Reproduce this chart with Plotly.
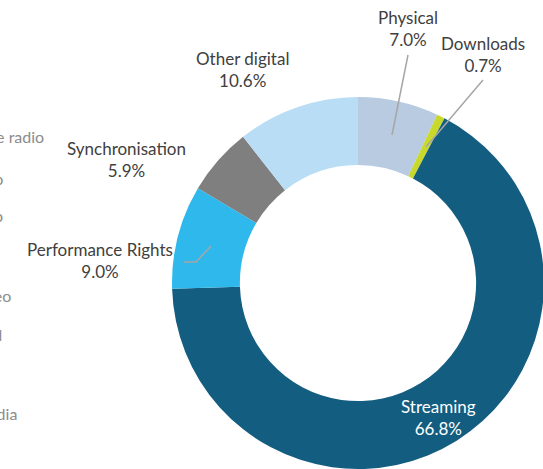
import plotly.graph_objects as go

# revenue split, clockwise from 12 o'clock
labels = ["Physical", "Downloads", "Streaming", "Performance Rights", "Synchronisation", "Other digital"]
shares = [7.0, 0.7, 66.8, 9.0, 5.9, 10.6]
colors = ["#B8CBE0", "#C8D92B", "#135D80", "#2FB8EC", "#7F7F7F", "#B8DDF5"]

# clipped legend text of a neighbouring chart on the left
side_words = ["Online radio", "Audio", "Video", "Music video", "Download", "Social media"]

W, H = 600, 520
cx, cy, r = 358, 283, 186


def px(x):
    return x / W


def py(y):
    return 1 - y / H


fig = go.Figure()
fig.add_trace(go.Pie(
    labels=labels,
    values=shares,
    marker=dict(colors=colors, line=dict(width=0)),
    hole=0.635,
    sort=False,
    direction="clockwise",
    rotation=0,
    textinfo="none",
    hoverinfo="label+percent",
    showlegend=False,
    domain=dict(x=[(cx - r) / W, (cx + r) / W], y=[(H - cy - r) / H, (H - cy + r) / H]),
))

# label placement (screen pixels from top-left), text built from the data
label_pos = {
    "Physical": (408, 28),
    "Downloads": (483, 55),
    "Streaming": (438, 417),
    "Performance Rights": (100, 260),
    "Synchronisation": (126, 159),
    "Other digital": (242, 70),
}
for name, val in zip(labels, shares):
    x, y = label_pos[name]
    fig.add_annotation(
        x=px(x), y=py(y), xref="paper", yref="paper",
        text=f"{name}<br>{val:.1f}%", showarrow=False,
        font=dict(family="Lato", size=17, color="#FFFFFF" if name == "Streaming" else "#404040"),
        xanchor="center", yanchor="middle", align="center",
    )

# leader lines
leaders = [
    [(408, 55), (392, 135)],
    [(483, 80), (426, 147)],
    [(184, 262), (196, 262), (211, 246)],
]
for pts in leaders:
    path = "M " + " L ".join(f"{px(x):.4f},{py(y):.4f}" for x, y in pts)
    fig.add_shape(type="path", path=path, xref="paper", yref="paper",
                  line=dict(color="#A6A6A6", width=1.5))

side_pos = [(46, 137), (5, 178), (5, 215), (13, 295), (4, 334), (19, 413)]
for word, (x, y) in zip(side_words, side_pos):
    fig.add_annotation(
        x=px(x), y=py(y), xref="paper", yref="paper",
        text=word, showarrow=False, xanchor="right", yanchor="middle",
        font=dict(family="Lato", size=16, color="#8C8C8C"),
    )

fig.update_layout(
    width=W, height=H,
    margin=dict(l=0, r=0, t=0, b=0),
    paper_bgcolor="white",
    plot_bgcolor="white",
)

# drop the default page margin so the chart sits at the window's corner
fig.write_html("out.html", post_script="document.body.style.margin='0';")
